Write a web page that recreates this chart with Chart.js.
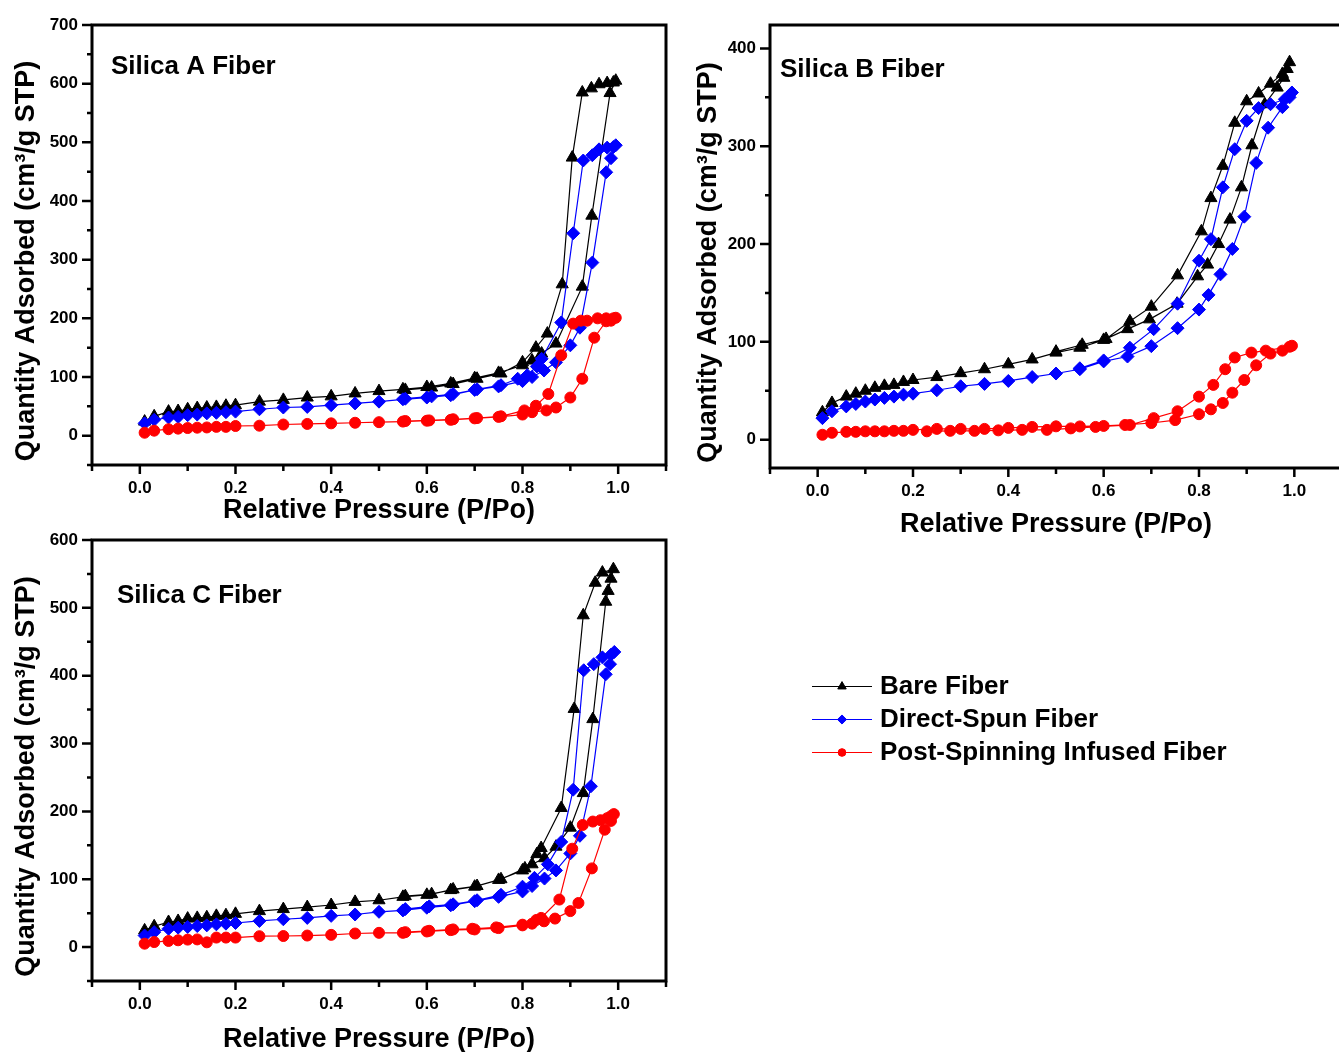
<!DOCTYPE html>
<html>
<head>
<meta charset="utf-8">
<script src="https://cdn.jsdelivr.net/npm/chart.js@4.4.1/dist/chart.umd.min.js"></script>
<style>
  html, body { margin: 0; padding: 0; background: #fff; overflow: hidden; width: 1339px; height: 1052px; }
  canvas { position: absolute; }
  #legend { position: absolute; left: 812px; top: 669px; font: bold 26px 'Liberation Sans', Arial, sans-serif; color: #000; }
  #legend .row { height: 33px; display: flex; align-items: center; white-space: nowrap; }
  #legend canvas { position: static; margin-right: 8px; }
</style>
</head>
<body>
<canvas id="chartA" width="680" height="530" style="left:0;top:0"></canvas>
<canvas id="chartB" width="680" height="545" style="left:680px;top:0"></canvas>
<canvas id="chartC" width="680" height="527" style="left:0;top:530px"></canvas>
<div id="legend"></div>
<script>
// series names
const seriesNames = ["Bare Fiber", "Direct-Spun Fiber", "Post-Spinning Infused Fiber"];

// axis ticks
const xMajor = [0.0, 0.2, 0.4, 0.6, 0.8, 1.0];
const xMinor = [-0.1, 0.1, 0.3, 0.5, 0.7, 0.9, 1.1];
const aYMajor = [0, 100, 200, 300, 400, 500, 600, 700];
const aYMinor = [-50, 50, 150, 250, 350, 450, 550, 650];
const bYMajor = [0, 100, 200, 300, 400];
const bYMinor = [50, 150, 250, 350];
const cYMajor = [0, 100, 200, 300, 400, 500, 600];
const cYMinor = [-50, 50, 150, 250, 350, 450, 550];

// Silica A (adsorption branch then desorption branch)
const aBareP = [0.01,0.03,0.06,0.08,0.10,0.12,0.14,0.16,0.18,0.20,0.25,0.30,0.35,0.40,0.45,0.50,0.55,0.60,0.65,0.70,0.75,0.80,0.82,0.84,0.87,0.925,0.945,0.983,0.995,
  0.99,0.977,0.96,0.944,0.925,0.904,0.883,0.852,0.828,0.80,0.755,0.705,0.655,0.61,0.555];
const aBareQ = [24,33,41,42,45,47,48,49,51,52,58,61,65,67,72,76,79,83,89,98,107,120,128,140,157,254,375,584,605,
  602,601,599,592,585,474,258,174,150,125,106,97,88,82,78];
const aDirectP = [0.01,0.03,0.06,0.08,0.10,0.12,0.14,0.16,0.18,0.20,0.25,0.30,0.35,0.40,0.45,0.50,0.55,0.60,0.65,0.70,0.75,0.80,0.82,0.845,0.87,0.90,0.92,0.946,0.975,0.985,0.995,
  0.99,0.977,0.96,0.946,0.927,0.906,0.881,0.84,0.83,0.81,0.79,0.755,0.705,0.655,0.61,0.555];
const aDirectQ = [21,27,31,32,35,36,38,39,40,41,45,48,49,52,55,58,62,65,69,78,84,93,100,111,125,154,184,295,449,473,495,
  492,491,488,478,469,345,193,131,118,103,97,86,79,71,67,63];
const aInfusedP = [0.01,0.03,0.06,0.08,0.10,0.12,0.14,0.16,0.18,0.20,0.25,0.30,0.35,0.40,0.45,0.50,0.55,0.60,0.65,0.70,0.75,0.80,0.82,0.85,0.87,0.90,0.925,0.95,0.975,0.985,0.995,
  0.99,0.975,0.957,0.935,0.922,0.906,0.881,0.854,0.828,0.804,0.755,0.705,0.655,0.605,0.555];
const aInfusedQ = [5,8.5,11,12,13,13.6,14,15,15,16.5,17,19,20,21,22,23,24,25.5,27,29.5,32,36,40,43,48,65,97,167,195,196,201,
  200,200,200,196,196,191,137,71,51,43,33,30,28,26,25];

// Silica B
const bBareP = [0.01,0.03,0.06,0.08,0.10,0.12,0.14,0.16,0.18,0.20,0.25,0.30,0.35,0.40,0.45,0.50,0.55,0.60,0.65,0.696,0.754,0.797,0.818,0.841,0.865,0.889,0.911,0.938,0.964,0.978,0.99,
  0.985,0.975,0.95,0.925,0.90,0.875,0.85,0.825,0.805,0.755,0.70,0.655,0.605,0.555,0.50];
const bBareQ = [28,37.5,44,47,50,53,55,56,59,61,64,68,72,77,82,89,94,102,113,123,139,167,179,200,225,258,301,343,360,370,386,
  379,374,364,354,346,324,280,247,213,168,136,121,103,97,90];
const bDirectP = [0.01,0.03,0.06,0.08,0.10,0.12,0.14,0.16,0.18,0.20,0.25,0.30,0.35,0.40,0.45,0.50,0.55,0.60,0.65,0.70,0.755,0.80,0.82,0.845,0.87,0.895,0.92,0.945,0.975,0.99,
  0.995,0.98,0.95,0.925,0.90,0.875,0.85,0.825,0.80,0.755,0.705,0.655,0.60,0.55];
const bDirectQ = [22,29,34,36.5,39,41,42.7,44,46,47,50.5,54.6,57,60,64,67.6,72,80,85,95.6,114,133,148,169,195,228,283,319,340,350,
  355,348,343,339,326,297,258,205,183,139,113,94,81,73];
const bInfusedP = [0.01,0.03,0.06,0.08,0.10,0.12,0.14,0.16,0.18,0.20,0.25,0.30,0.35,0.40,0.45,0.50,0.55,0.60,0.645,0.70,0.75,0.80,0.825,0.85,0.87,0.895,0.92,0.95,0.975,0.995,
  0.99,0.94,0.91,0.875,0.855,0.83,0.80,0.755,0.705,0.655,0.583,0.531,0.481,0.429,0.379,0.329,0.278,0.229];
const bInfusedQ = [5,7,8,8,8.5,8.5,8.5,9,9,10,11,11,11,12,13,13.6,13.5,14,15,17,20,26,31,37.5,48,61,76,88,91,96,
  95,91,89,84,72,56,44,29,22,15,13,11.5,10,10,9.5,9,9,8.5];

// Silica C
const cBareP = [0.01,0.03,0.06,0.08,0.10,0.12,0.14,0.16,0.18,0.20,0.25,0.30,0.35,0.40,0.45,0.50,0.55,0.60,0.65,0.70,0.75,0.80,0.82,0.846,0.87,0.90,0.927,0.947,0.974,0.979,0.985,0.99,
  0.967,0.952,0.927,0.908,0.881,0.839,0.83,0.805,0.755,0.705,0.655,0.61,0.555];
const cBareQ = [24.6,30.6,37,38.5,42,43,44,46,47,49,53,56,59,62,66.6,69,74,77,84,89,99,113,122,131,148,176,227,336,509,525,543,557,
  552,537,489,351,205,146,137,116,100,90,85,78,75];
const cDirectP = [0.01,0.03,0.06,0.08,0.10,0.12,0.14,0.16,0.18,0.20,0.25,0.30,0.35,0.40,0.45,0.50,0.55,0.60,0.65,0.70,0.75,0.80,0.82,0.846,0.87,0.90,0.92,0.943,0.974,0.983,0.992,
  0.985,0.967,0.949,0.928,0.906,0.881,0.853,0.825,0.80,0.755,0.705,0.655,0.605,0.555];
const cDirectQ = [17,22,27,28.6,29.6,31,32,33.5,34.5,35.5,38.5,41,43,46,48,52,54,58,61.6,67.6,74,82,90,101,113,138,164,237,402,417,435,
  431,427,417,408,232,155,122,102,89,77,69,63,60,56];
const cInfusedP = [0.01,0.03,0.06,0.08,0.10,0.12,0.14,0.16,0.18,0.20,0.25,0.30,0.35,0.40,0.45,0.50,0.55,0.60,0.65,0.70,0.75,0.80,0.82,0.845,0.868,0.90,0.917,0.945,0.972,0.985,0.991,
  0.985,0.977,0.963,0.947,0.926,0.904,0.877,0.839,0.829,0.80,0.745,0.695,0.655,0.605,0.555];
const cInfusedQ = [5,7.4,9,10,11,11.3,7,14,14,14,16,16.3,17,18,20,21,21,23,25,26,28,32,34.5,38,42,53,65,116,173,186,196,
  193,190,187,185,180,145,70,43,40,33,29,27,26,24,22];

Chart.defaults.font.family = "'Liberation Sans', Arial, Helvetica, sans-serif";
Chart.defaults.font.weight = 'bold';
Chart.defaults.color = '#000';

const styles = [
  { color: '#000000', pointStyle: 'triangle', radius: 7, order: 3 },
  { color: '#0000ff', pointStyle: 'rectRot', radius: 6.5, order: 2 },
  { color: '#ff0000', pointStyle: 'circle', radius: 5.5, order: 1 }
];

function series(i, p, q) {
  const s = styles[i];
  return {
    label: seriesNames[i],
    data: p.map((x, k) => ({ x: x, y: q[k] })),
    showLine: true,
    borderColor: s.color,
    backgroundColor: s.color,
    borderWidth: 1.2,
    pointStyle: s.pointStyle,
    pointRadius: s.radius,
    pointBorderWidth: 1,
    pointBorderColor: s.color,
    pointBackgroundColor: s.color,
    order: s.order
  };
}

// frame, outward tick marks, y title and panel title
const framePlugin = {
  id: 'frame',
  afterDraw(chart, args, opts) {
    const { ctx, chartArea: a, scales: { x, y } } = chart;
    ctx.save();
    ctx.strokeStyle = '#000';
    ctx.lineWidth = 2.5;
    ctx.beginPath();
    y.ticks.forEach(t => { const py = y.getPixelForValue(t.value); ctx.moveTo(a.left, py); ctx.lineTo(a.left - 10, py); });
    opts.yMinor.forEach(v => { const py = y.getPixelForValue(v); ctx.moveTo(a.left, py); ctx.lineTo(a.left - 5, py); });
    x.ticks.forEach(t => { const px = x.getPixelForValue(t.value); ctx.moveTo(px, a.bottom); ctx.lineTo(px, a.bottom + 9); });
    opts.xMinor.forEach(v => { const px = x.getPixelForValue(v); ctx.moveTo(px, a.bottom); ctx.lineTo(px, a.bottom + 6); });
    ctx.stroke();
    ctx.lineWidth = 3;
    ctx.strokeRect(a.left, a.top, a.right - a.left, a.bottom - a.top);
    ctx.fillStyle = '#000';
    ctx.font = "bold 26px 'Liberation Sans', Arial, sans-serif";
    ctx.textBaseline = 'alphabetic';
    ctx.textAlign = 'left';
    ctx.fillText(opts.title, a.left + opts.dx, a.top + opts.dy);
    // y axis title, a little below the middle of the axis as in the original
    ctx.font = "bold 27px 'Liberation Sans', Arial, sans-serif";
    ctx.textAlign = 'center';
    ctx.textBaseline = 'middle';
    ctx.translate(opts.yTitleX, (a.top + a.bottom) / 2 + opts.yTitleShift);
    ctx.rotate(-Math.PI / 2);
    ctx.fillText(opts.yTitle, 0, 0);
    ctx.restore();
  }
};

function makeChart(id, datasets, o) {
  return new Chart(document.getElementById(id), {
    type: 'scatter',
    data: { datasets: datasets },
    options: {
      responsive: false,
      animation: false,
      layout: { padding: { top: o.top, right: o.right, left: 0, bottom: 0 } },
      plugins: {
        legend: { display: false },
        tooltip: { enabled: false },
        frame: {
          title: o.title, dx: o.dx, dy: o.dy, xMinor: xMinor, yMinor: o.yMinor,
          yTitle: 'Quantity Adsorbed (cm³/g STP)', yTitleX: o.yTitleX, yTitleShift: 16
        }
      },
      scales: {
        x: {
          type: 'linear', min: -0.1, max: 1.1,
          afterBuildTicks: s => { s.ticks = xMajor.map(v => ({ value: v })); },
          afterFit: s => { s.height = o.xHeight; s.paddingLeft = 0; s.paddingRight = 0; s.paddingTop = 0; s.paddingBottom = 0; },
          grid: { display: false, drawTicks: true, tickLength: 9 },
          border: { display: false },
          ticks: { padding: 4, autoSkip: false, maxRotation: 0, color: '#000', font: { size: 17, weight: 'bold' }, callback: v => Number(v).toFixed(1) },
          title: { display: true, text: 'Relative Pressure (P/Po)', color: '#000', font: { size: 27, weight: 'bold' }, padding: { top: 0, bottom: o.xTitlePad } }
        },
        y: {
          type: 'linear', min: o.yMin, max: o.yMax,
          afterBuildTicks: s => { s.ticks = o.yMajor.map(v => ({ value: v })); },
          afterFit: s => { s.width = o.yWidth; s.paddingTop = 0; s.paddingBottom = 0; s.paddingLeft = 0; s.paddingRight = 0; },
          grid: { display: false, drawTicks: true, tickLength: 10 },
          border: { display: false },
          ticks: { padding: 4, autoSkip: false, color: '#000', font: { size: 17, weight: 'bold' }, callback: v => String(v) }
        }
      }
    },
    plugins: [framePlugin]
  });
}

makeChart('chartA', [series(0, aBareP, aBareQ), series(1, aDirectP, aDirectQ), series(2, aInfusedP, aInfusedQ)], {
  top: 25, right: 14, yWidth: 92, xHeight: 65, yMin: -50, yMax: 700, yMajor: aYMajor, yMinor: aYMinor,
  xTitlePad: 3, yTitleX: 27, title: 'Silica A Fiber', dx: 19, dy: 49
});
makeChart('chartB', [series(0, bBareP, bBareQ), series(1, bDirectP, bDirectQ), series(2, bInfusedP, bInfusedQ)], {
  top: 25, right: 18, yWidth: 90, xHeight: 77, yMin: -29, yMax: 424, yMajor: bYMajor, yMinor: bYMinor,
  xTitlePad: 4, yTitleX: 29, title: 'Silica B Fiber', dx: 10, dy: 52
});
const chartC = makeChart('chartC', [series(0, cBareP, cBareQ), series(1, cDirectP, cDirectQ), series(2, cInfusedP, cInfusedQ)], {
  top: 10, right: 14, yWidth: 92, xHeight: 76, yMin: -50, yMax: 600, yMajor: cYMajor, yMinor: cYMinor,
  xTitlePad: 1, yTitleX: 27, title: 'Silica C Fiber', dx: 25, dy: 63
});

// shared legend, built from the datasets of one panel
const legendBox = document.getElementById('legend');
chartC.data.datasets.forEach(ds => {
  const row = document.createElement('div');
  row.className = 'row';
  const c = document.createElement('canvas');
  c.width = 60; c.height = 20;
  const g = c.getContext('2d');
  g.strokeStyle = ds.borderColor; g.fillStyle = ds.backgroundColor; g.lineWidth = 1;
  g.beginPath(); g.moveTo(0, 10.5); g.lineTo(60, 10.5); g.stroke();
  Chart.helpers.drawPoint(g, { pointStyle: ds.pointStyle, radius: ds.pointRadius * 0.7, rotation: 0, borderWidth: 1 }, 30, 10.5);
  const span = document.createElement('span');
  span.textContent = ds.label;
  row.appendChild(c);
  row.appendChild(span);
  legendBox.appendChild(row);
});
</script>
</body>
</html>
